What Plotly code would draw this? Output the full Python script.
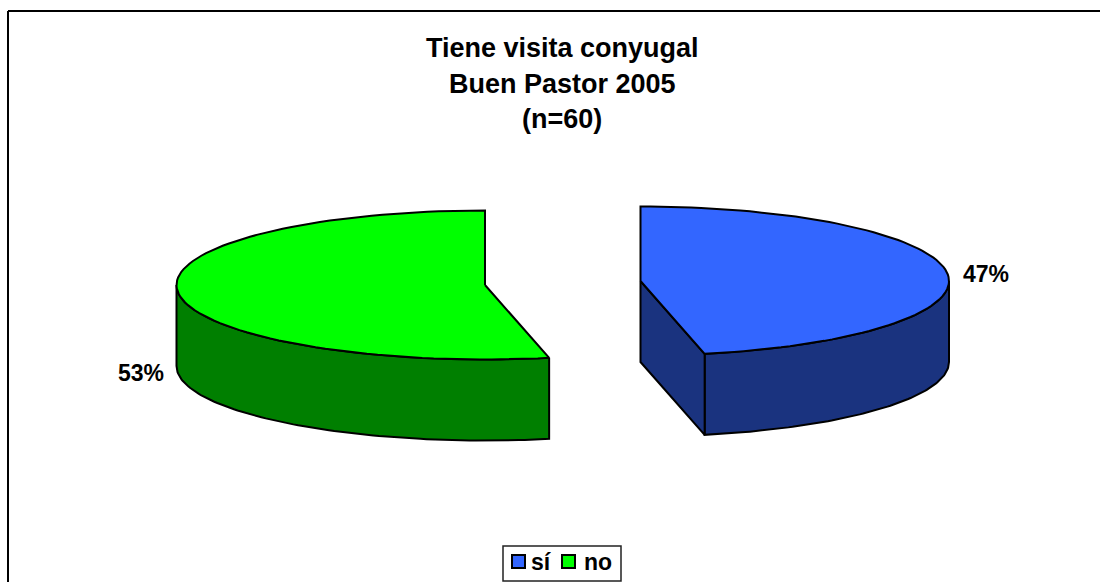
import numpy as np
import plotly.graph_objects as go

categories = ["sí", "no"]
counts = [28, 32]
title_lines = ["Tiene visita conyugal", "Buen Pastor 2005", "(n=60)"]

FONT = "Liberation Sans, Arial, sans-serif"
TOP, DARK = ["#3366FF", "#00FF00"], ["#1A337F", "#007F00"]
CENTERS = [(640.5, 281), (485, 285)]
RX, RY, DEPTH = 308.5, 74.5, 81
LEGEND_SWATCH_X = [512, 562]
LEGEND_TEXT_X = [541.5, 597.5]

def arc(center, a0, a1, n=90):
    t = np.radians(np.linspace(a0, a1, n))
    return center[0] + RX * np.sin(t), center[1] - RY * np.cos(t)

fig = go.Figure()

def poly(x, y, color, name):
    fig.add_trace(go.Scatter(x=list(x), y=list(y), mode="lines", fill="toself", fillcolor=color, name=name,
                             line=dict(color="black", width=2), showlegend=False, hoverinfo="skip"))

total = sum(counts)
a_split = 360 * counts[0] / total
shares = [round(100 * v / total) for v in counts]

# blue slice: 0 -> split, clockwise from 12 o'clock
c = CENTERS[0]
ax, ay = arc(c, 90, a_split)
poly(np.r_[ax, ax[::-1], ax[0]], np.r_[ay, ay[::-1] + DEPTH, ay[0]], DARK[0], categories[0])
ex, ey = arc(c, a_split, a_split, 1)
poly([c[0], ex[0], ex[0], c[0], c[0]], [c[1], ey[0], ey[0] + DEPTH, c[1] + DEPTH, c[1]], DARK[0], categories[0])
tx, ty = arc(c, 0, a_split)
poly(np.r_[c[0], tx, c[0]], np.r_[c[1], ty, c[1]], TOP[0], categories[0])

# green slice: split -> 360
c = CENTERS[1]
ax, ay = arc(c, a_split, 270)
poly(np.r_[ax, ax[::-1], ax[0]], np.r_[ay, ay[::-1] + DEPTH, ay[0]], DARK[1], categories[1])
tx, ty = arc(c, a_split, 360)
poly(np.r_[c[0], tx, c[0]], np.r_[c[1], ty, c[1]], TOP[1], categories[1])

annotations = []
for line, y in zip(title_lines, [48, 84, 119]):
    annotations.append(dict(x=562, y=y, text=f"<b>{line}</b>", showarrow=False, xref="x", yref="y",
                            font=dict(family=FONT, size=27, color="black")))
for share, (x, y) in zip(shares, [(986, 274), (141, 373)]):
    annotations.append(dict(x=x, y=y, text=f"<b>{share}%</b>", showarrow=False, xref="x", yref="y",
                            font=dict(family=FONT, size=23, color="black")))

shapes = [dict(type="line", x0=8, x1=1100, y0=11, y1=11, line=dict(color="black", width=2)),
          dict(type="line", x0=8, x1=8, y0=11, y1=582, line=dict(color="black", width=2)),
          dict(type="rect", x0=503, x1=621, y0=546, y1=581, line=dict(color="#222222", width=1.5))]
for name, col, sx, tx_ in zip(categories, TOP, LEGEND_SWATCH_X, LEGEND_TEXT_X):
    shapes.append(dict(type="rect", x0=sx, x1=sx + 13, y0=555, y1=568, fillcolor=col,
                       line=dict(color="black", width=2)))
    annotations.append(dict(x=tx_, y=562, text=f"<b>{name}</b>", showarrow=False, xref="x", yref="y",
                            font=dict(family=FONT, size=23, color="black")))

fig.update_layout(
    width=1100, height=582, margin=dict(l=0, r=0, t=0, b=0, autoexpand=False),
    paper_bgcolor="white", plot_bgcolor="white", showlegend=False,
    xaxis=dict(range=[0, 1100], visible=False, fixedrange=True),
    yaxis=dict(range=[582, 0], visible=False, fixedrange=True),
    annotations=annotations,
    shapes=shapes,
)
fig.write_html("out.html", config={"displayModeBar": False},
               post_script="document.body.style.margin='0';document.documentElement.style.overflow='hidden';")
